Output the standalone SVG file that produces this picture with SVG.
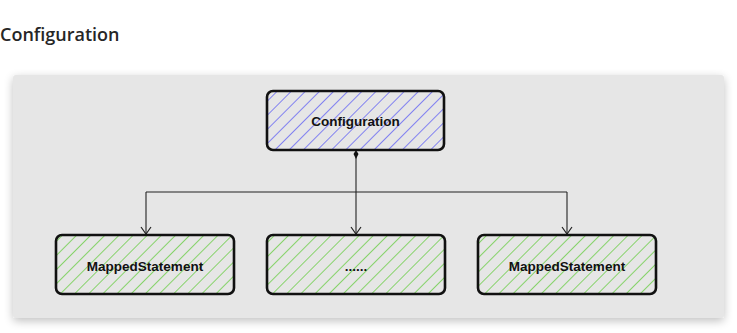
<svg xmlns="http://www.w3.org/2000/svg" width="737" height="333" viewBox="0 0 737 333">
  <defs>
    <pattern id="hatchBlue" patternUnits="userSpaceOnUse" width="10" height="10" patternTransform="rotate(45)">
      <line x1="0" y1="0" x2="0" y2="10" stroke="#7676f2" stroke-width="1.8"/>
    </pattern>
    <pattern id="hatchGreen" patternUnits="userSpaceOnUse" width="10" height="10" patternTransform="rotate(45)">
      <line x1="0" y1="0" x2="0" y2="10" stroke="#7bd15c" stroke-width="1.8"/>
    </pattern>
    <filter id="shadow" x="-10%" y="-20%" width="120%" height="140%">
      <feGaussianBlur in="SourceAlpha" stdDeviation="5"/>
      <feOffset dx="0" dy="3"/>
      <feComponentTransfer><feFuncA type="linear" slope="0.25"/></feComponentTransfer>
      <feMerge><feMergeNode/><feMergeNode in="SourceGraphic"/></feMerge>
    </filter>
    <marker id="openArrow" viewBox="0 0 12 12" refX="11" refY="6" markerWidth="12" markerHeight="12" markerUnits="userSpaceOnUse" orient="auto">
      <path d="M4,1 L11,6 L4,11" fill="none" stroke="#222" stroke-width="1.2"/>
    </marker>
  </defs>
  <style>
    .title { font-family: "Open Sans", "Noto Sans", sans-serif; font-size: 18px; font-weight: 600; fill: #262626; }
    .box { stroke: #111; stroke-width: 2.6; }
    .label { font-family: "Liberation Sans", Arial, sans-serif; font-size: 13.5px; font-weight: bold; fill: #111; text-anchor: middle; }
    .edge { fill: none; stroke: #222; stroke-width: 1.1; }
  </style>

  <rect width="737" height="333" fill="#ffffff"/>
  <text class="title" x="0" y="41">Configuration</text>

  <!-- canvas panel -->
  <rect x="13" y="75" width="711" height="243" rx="3" fill="#e6e6e6" filter="url(#shadow)"/>

  <g id="connectors">
    <path class="edge" d="M356,156 V192"/>
    <path class="edge" d="M146,192 H567"/>
    <path class="edge" d="M146,192 V234" marker-end="url(#openArrow)"/>
    <path class="edge" d="M356,192 V234" marker-end="url(#openArrow)"/>
    <path class="edge" d="M567,192 V234" marker-end="url(#openArrow)"/>
    <path d="M356,150 L358.5,154 L356,159 L353.5,154 Z" fill="#111"/>
  </g>

  <g id="configuration">
    <rect x="267" y="91" width="177" height="59" rx="6" fill="url(#hatchBlue)" class="box"/>
    <text class="label" x="355.5" y="125.5">Configuration</text>
  </g>

  <g id="mappedStatement1">
    <rect x="56" y="235" width="178" height="59" rx="6" fill="url(#hatchGreen)" class="box"/>
    <text class="label" x="145" y="271">MappedStatement</text>
  </g>

  <g id="ellipsis">
    <rect x="267" y="235" width="178" height="59" rx="6" fill="url(#hatchGreen)" class="box"/>
    <text class="label" x="356" y="271">......</text>
  </g>

  <g id="mappedStatement2">
    <rect x="478" y="235" width="178" height="59" rx="6" fill="url(#hatchGreen)" class="box"/>
    <text class="label" x="567" y="271">MappedStatement</text>
  </g>
</svg>
